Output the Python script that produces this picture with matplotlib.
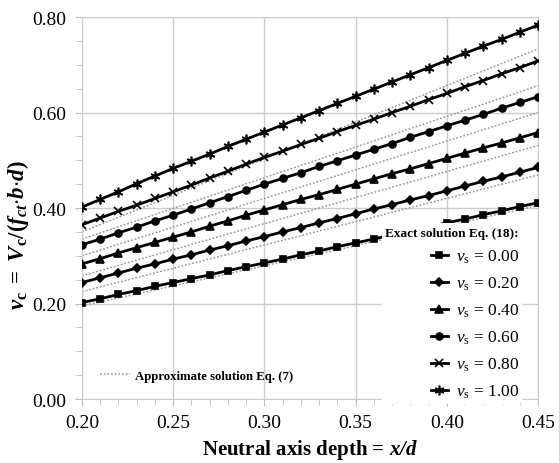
import numpy as np
import matplotlib
matplotlib.use("Agg")
import matplotlib.pyplot as plt
from matplotlib.lines import Line2D
from matplotlib.ticker import MultipleLocator, FormatStrFormatter

plt.rcParams['font.family'] = ['Liberation Serif', 'DejaVu Serif']
plt.rcParams['mathtext.fontset'] = 'custom'
plt.rcParams['mathtext.rm'] = 'Liberation Serif'
plt.rcParams['mathtext.it'] = 'Liberation Serif:italic'
plt.rcParams['mathtext.bf'] = 'Liberation Serif:bold'
plt.rcParams['mathtext.bfit'] = 'Liberation Serif:italic:bold'

# x = neutral axis depth x/d
x_depth = [0.20, 0.21, 0.22, 0.23, 0.24, 0.25, 0.26, 0.27, 0.28, 0.29, 0.30, 0.31, 0.32,
           0.33, 0.34, 0.35, 0.36, 0.37, 0.38, 0.39, 0.40, 0.41, 0.42, 0.43, 0.44, 0.45]

vs_labels = ["0.00", "0.20", "0.40", "0.60", "0.80", "1.00"]

# exact solution Eq. (18)
exact_000 = [0.202, 0.210, 0.219, 0.227, 0.236, 0.244, 0.252, 0.260, 0.269, 0.277, 0.285, 0.293, 0.302,
             0.310, 0.319, 0.327, 0.335, 0.344, 0.352, 0.361, 0.369, 0.377, 0.386, 0.394, 0.403, 0.411]
exact_020 = [0.244, 0.254, 0.264, 0.274, 0.283, 0.293, 0.302, 0.312, 0.321, 0.331, 0.340, 0.350, 0.359,
             0.369, 0.378, 0.388, 0.398, 0.407, 0.417, 0.426, 0.436, 0.446, 0.456, 0.465, 0.475, 0.485]
exact_040 = [0.283, 0.294, 0.306, 0.317, 0.328, 0.339, 0.350, 0.362, 0.373, 0.385, 0.396, 0.407, 0.418,
             0.428, 0.439, 0.450, 0.461, 0.472, 0.482, 0.493, 0.504, 0.515, 0.526, 0.536, 0.547, 0.558]
exact_060 = [0.323, 0.335, 0.348, 0.360, 0.373, 0.385, 0.398, 0.411, 0.424, 0.437, 0.450, 0.462, 0.474,
             0.487, 0.499, 0.511, 0.523, 0.535, 0.548, 0.560, 0.572, 0.584, 0.596, 0.609, 0.621, 0.633]
exact_080 = [0.365, 0.379, 0.393, 0.406, 0.420, 0.434, 0.448, 0.463, 0.477, 0.492, 0.506, 0.519, 0.533,
             0.546, 0.560, 0.573, 0.586, 0.600, 0.613, 0.627, 0.640, 0.654, 0.667, 0.681, 0.694, 0.708]
exact_100 = [0.402, 0.418, 0.434, 0.451, 0.467, 0.483, 0.498, 0.513, 0.529, 0.544, 0.559, 0.574, 0.589,
             0.604, 0.619, 0.634, 0.649, 0.664, 0.679, 0.694, 0.709, 0.724, 0.739, 0.753, 0.768, 0.783]

# approximate solution Eq. (7), straight lines between the ends
x_approx = [0.20, 0.45]
approx_000 = [0.195, 0.405]
approx_020 = [0.225, 0.469]
approx_040 = [0.258, 0.531]
approx_060 = [0.300, 0.600]
approx_080 = [0.335, 0.656]
approx_100 = [0.350, 0.733]

exact = [exact_000, exact_020, exact_040, exact_060, exact_080, exact_100]
approx = [approx_000, approx_020, approx_040, approx_060, approx_080, approx_100]
markers = ['s', 'D', '^', 'o', 'x', (6, 2, 0)]
msizes = [5, 4, 5.5, 5, 5.5, 7]

fig = plt.figure(figsize=(5.59, 4.64), dpi=100)
ax = fig.add_axes([0.1467, 0.1379, 0.9624 - 0.1467, 0.9612 - 0.1379])

for ya in approx:
    ax.plot(x_approx, ya, color='#9a9a9a', lw=1.1, ls=(0, (1.2, 1.2)), zorder=2)

handles = []
for ye, mk, ms, lab in zip(exact, markers, msizes, vs_labels):
    h, = ax.plot(x_depth, ye, color='black', lw=2, marker=mk, ms=ms, mew=1.2,
                 zorder=3, label=r'$v_{\mathrm{s}}$ = ' + lab)
    handles.append(h)

ax.set_xlim(0.20, 0.45)
ax.set_ylim(0.0, 0.80)
ax.xaxis.set_major_locator(MultipleLocator(0.05))
ax.xaxis.set_minor_locator(MultipleLocator(0.01))
ax.yaxis.set_major_locator(MultipleLocator(0.20))
ax.yaxis.set_minor_locator(MultipleLocator(0.05))
ax.xaxis.set_major_formatter(FormatStrFormatter('%.2f'))
ax.yaxis.set_major_formatter(FormatStrFormatter('%.2f'))
ax.tick_params(which='both', direction='out', color='#bbbbbb', labelsize=14)
ax.tick_params(which='major', length=5, pad=6)
ax.tick_params(which='minor', length=4)
ax.grid(True, which='major', color='#cccccc', lw=1)
ax.set_axisbelow(True)
for sp in ax.spines.values():
    sp.set_color('#cccccc')

ax.set_xlabel(r'Neutral axis depth = $\mathbfit{x/d}$', fontsize=15, fontweight='bold', labelpad=4)
ax.set_ylabel(r'$\mathbfit{v}_{\mathbf{c}}\mathbf{\ =\ }\mathbfit{V}_{\mathbf{c}}\mathbf{/(}\mathbfit{f}_{\mathbfit{ct}}'
              r'\mathbf{\cdot}\mathbfit{b}\mathbf{\cdot}\mathbfit{d}\mathbf{)}$',
              fontsize=16.5)
ax.yaxis.set_label_coords(-0.112, 0.432)

leg1 = ax.legend(handles=handles, loc='lower right', bbox_to_anchor=(0.985, -0.035),
                 frameon=True, framealpha=1, edgecolor='none', fontsize=12.5,
                 handlelength=1.0, handletextpad=0.45, labelspacing=0.55,
                 borderpad=0.2, title='Exact solution Eq. (18):', alignment='right',
                 title_fontproperties={'weight': 'bold', 'size': 9.5})
ax.add_artist(leg1)

ap = Line2D([], [], color='#9a9a9a', lw=1.1, ls=(0, (1.2, 1.2)))
ax.legend([ap], ['Approximate solution Eq. (7)'], loc='lower left', bbox_to_anchor=(0.015, 0.015),
          frameon=False, prop={'weight': 'bold', 'size': 9.2}, handlelength=2.3, handletextpad=0.4)

fig.savefig('out.png', dpi=100)
